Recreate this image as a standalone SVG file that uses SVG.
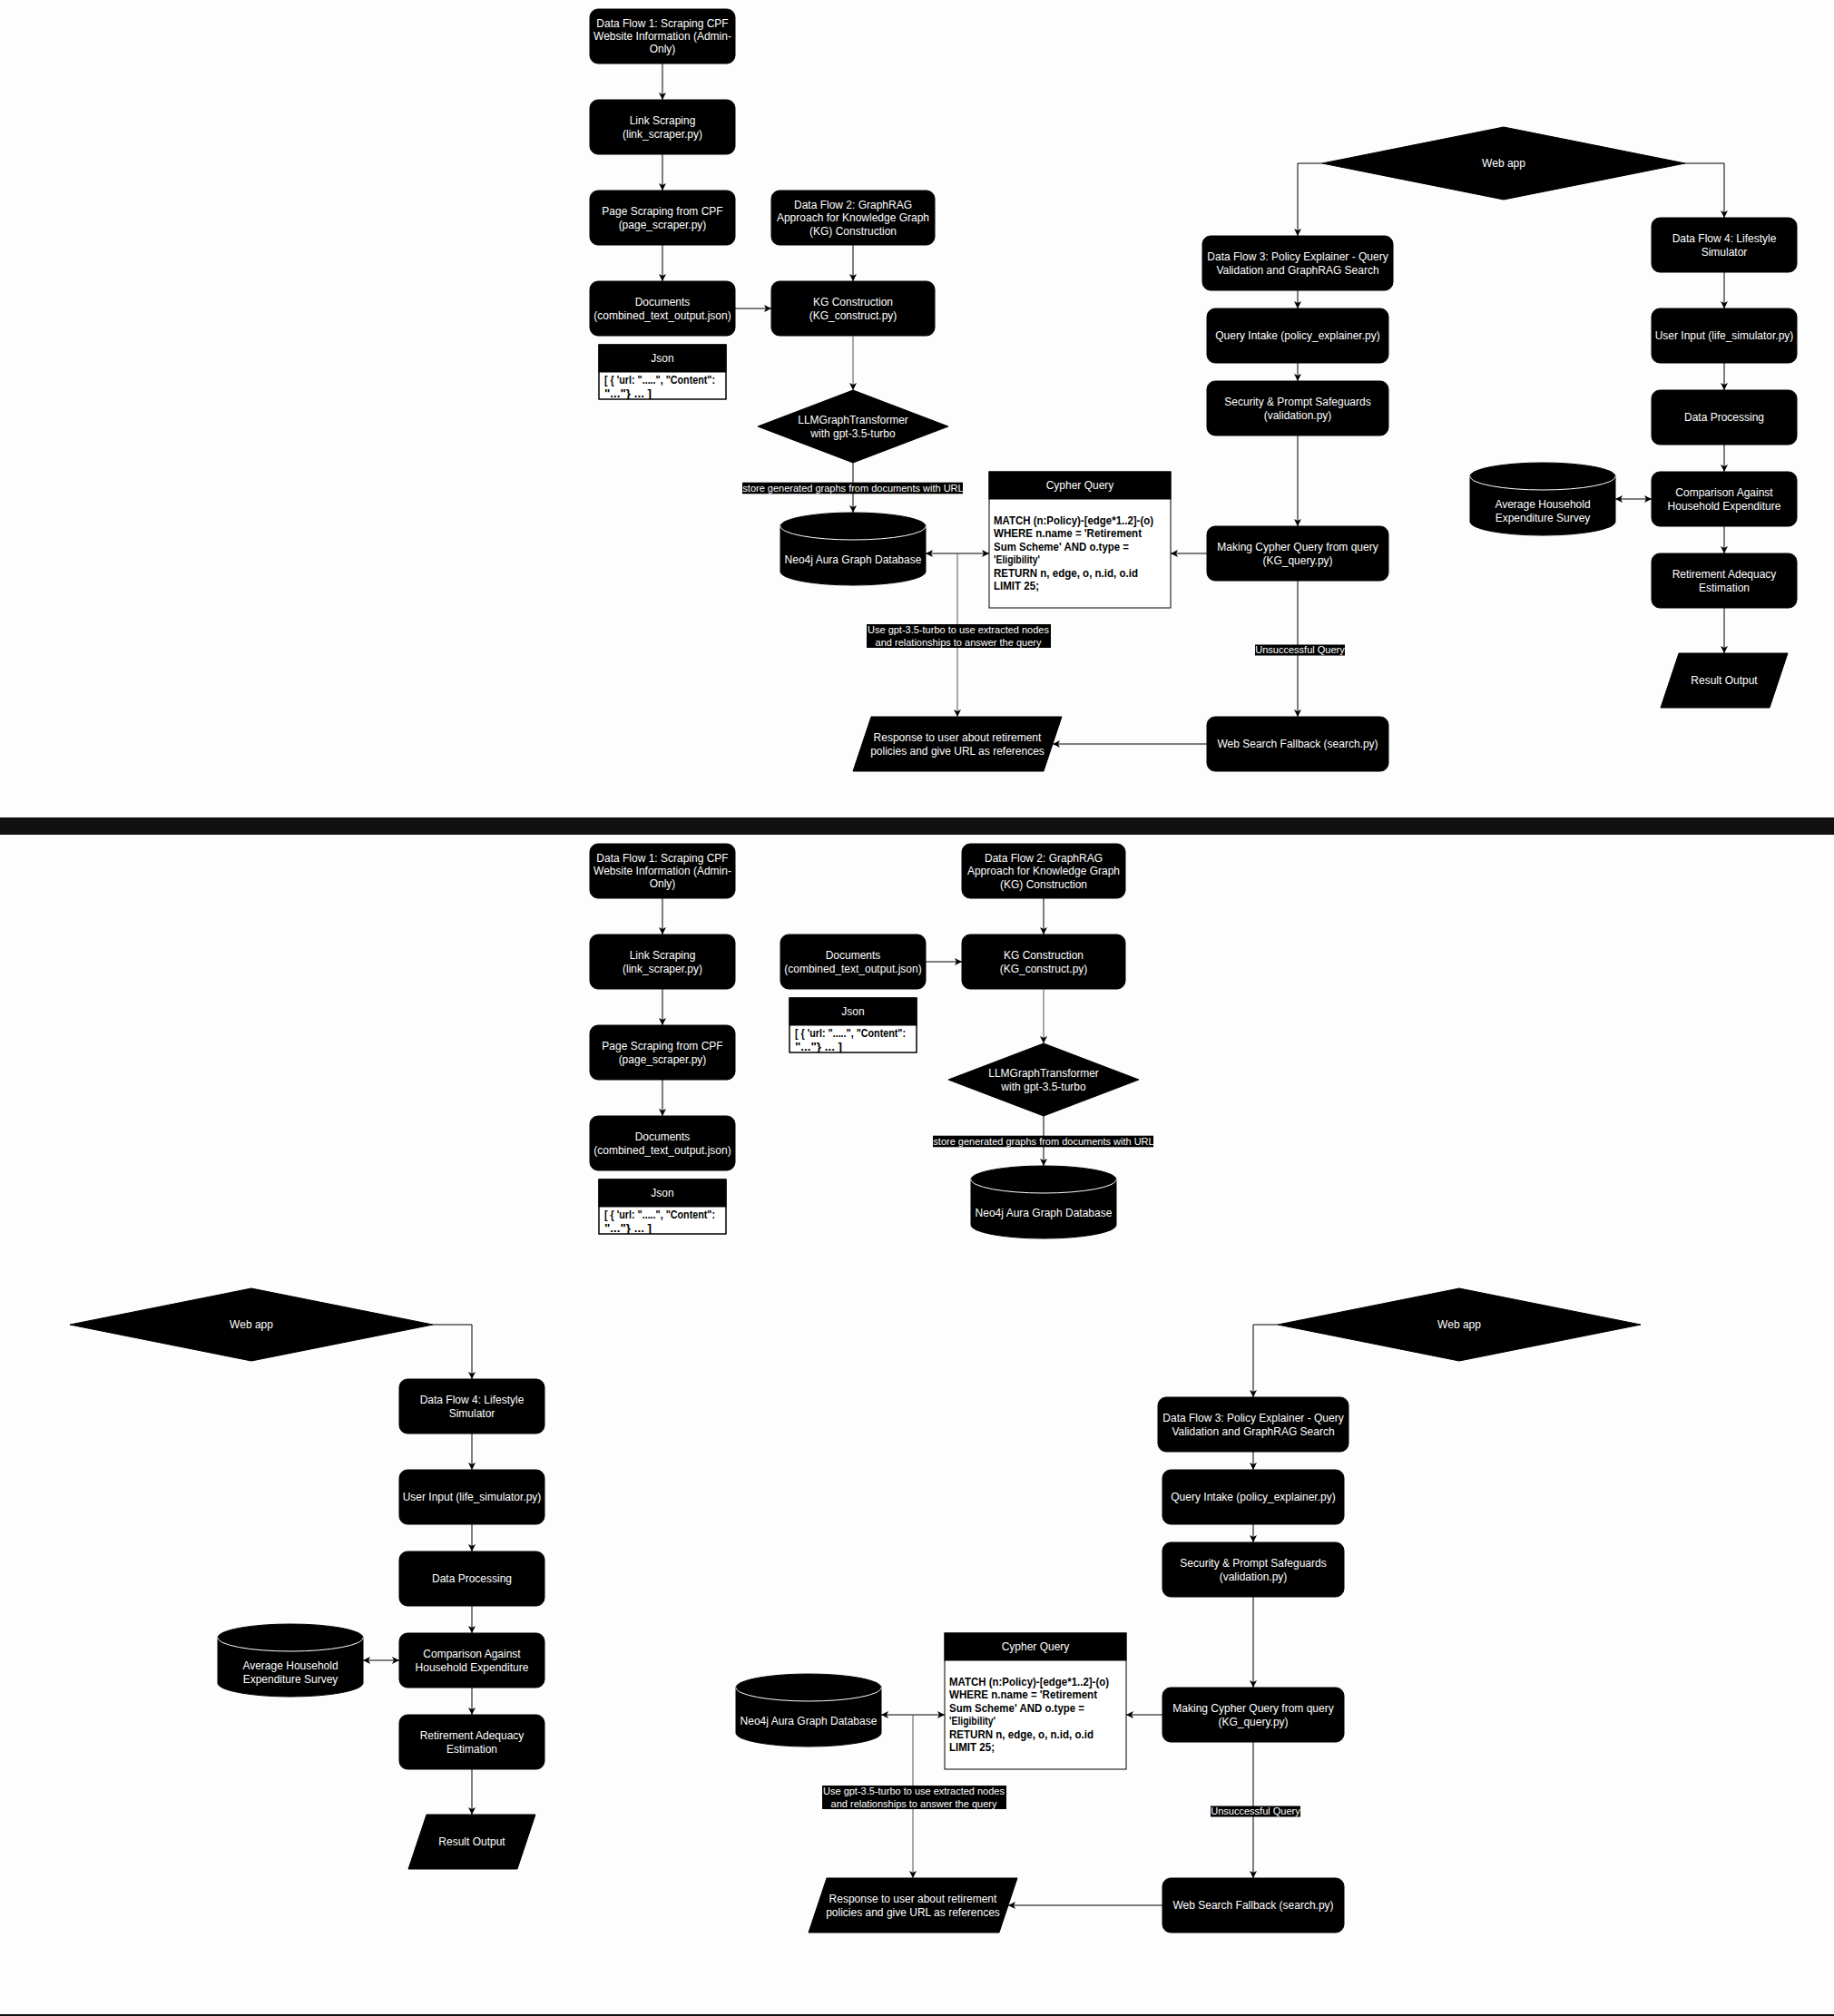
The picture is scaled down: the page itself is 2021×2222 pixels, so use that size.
<svg xmlns="http://www.w3.org/2000/svg" width="2021" height="2222" viewBox="0 0 2021 2222">
<defs>
<style>
.bg{fill:#fdfdfd}
.n{fill:#000;stroke:#000;stroke-width:1}
.t{font-family:"Liberation Sans",Arial,Helvetica,sans-serif;font-size:12px;fill:#fff;text-anchor:middle}
.c{font-family:"Liberation Sans",Arial,Helvetica,sans-serif;font-size:12px;font-weight:bold;fill:#000}
.tb{fill:#fff;stroke:#000;stroke-width:1}
.e{fill:none;stroke:#000;stroke-width:1}
.g{fill:none;stroke:#555;stroke-width:1}
.lb{fill:#000}
.lt{font-family:"Liberation Sans",Arial,Helvetica,sans-serif;font-size:11px;fill:#fff;text-anchor:middle}
.cl{fill:none;stroke:#fff;stroke-width:1}
</style>
<marker id="a" markerUnits="userSpaceOnUse" markerWidth="9" markerHeight="9" refX="8" refY="4" orient="auto-start-reverse" viewBox="0 0 9 8"><path d="M0,0 L8,4 L0,8 L2,4 Z" fill="#000"/></marker>
<clipPath id="cj"><rect x="660" y="410" width="140" height="30"/></clipPath>
</defs>
<rect class="bg" x="0" y="0" width="2021" height="2222"/>
<rect x="0" y="901" width="2021" height="19" fill="#111"/>
<rect x="0" y="2220" width="2021" height="2" fill="#111"/>

<!-- ================= TOP ================= -->
<g id="top-nodes">
 <g id="df1"><rect class="n" x="650" y="10" width="160" height="60" rx="9"/><text class="t" x="730" y="29.7">Data Flow 1: Scraping CPF</text><text class="t" x="730" y="44">Website Information (Admin-</text><text class="t" x="730" y="58.3">Only)</text></g>
 <g id="link"><rect class="n" x="650" y="110" width="160" height="60" rx="9"/><text class="t" x="730" y="136.7">Link Scraping</text><text class="t" x="730" y="151.5">(link_scraper.py)</text></g>
 <g id="page"><rect class="n" x="650" y="210" width="160" height="60" rx="9"/><text class="t" x="730" y="236.7">Page Scraping from CPF</text><text class="t" x="730" y="251.5">(page_scraper.py)</text></g>
 <g id="docs"><rect class="n" x="650" y="310" width="160" height="60" rx="9"/><text class="t" x="730" y="336.7">Documents</text><text class="t" x="730" y="351.5">(combined_text_output.json)</text></g>
 <g id="json"><rect class="tb" x="660" y="380" width="140" height="60"/><rect class="n" x="660" y="380" width="140" height="30"/><text class="t" x="730" y="399">Json</text><g clip-path="url(#cj)"><text class="c" x="666" y="423.3" textLength="122" lengthAdjust="spacingAndGlyphs">[ { 'url: ".....", "Content":</text><text class="c" x="666" y="437.5" textLength="52" lengthAdjust="spacingAndGlyphs">"..."} ... ]</text></g><rect x="660" y="380" width="140" height="60" fill="none" stroke="#000"/></g>
 <g id="df2"><rect class="n" x="850" y="210" width="180" height="60" rx="9"/><text class="t" x="940" y="229.7">Data Flow 2: GraphRAG</text><text class="t" x="940" y="244">Approach for Knowledge Graph</text><text class="t" x="940" y="258.5">(KG) Construction</text></g>
 <g id="kg"><rect class="n" x="850" y="310" width="180" height="60" rx="9"/><text class="t" x="940" y="336.7">KG Construction</text><text class="t" x="940" y="351.5">(KG_construct.py)</text></g>
 <g id="llm"><polygon class="n" points="940,430 1045,470 940,510 835,470"/><text class="t" x="940" y="466.7">LLMGraphTransformer</text><text class="t" x="940" y="481.7">with gpt-3.5-turbo</text></g>
 <g id="neo4j"><path class="n" d="M860,580 A80,15 0 0 1 1020,580 V630 A80,15 0 0 1 860,630 Z"/><path class="cl" d="M860,580 A80,15 0 0 0 1020,580"/><text class="t" x="940" y="621">Neo4j Aura Graph Database</text></g>
 <g id="cypher"><rect class="tb" x="1090" y="520" width="200" height="150"/><rect class="n" x="1090" y="520" width="200" height="30"/><text class="t" x="1190" y="539">Cypher Query</text><text class="c" x="1095" y="578" textLength="176" lengthAdjust="spacingAndGlyphs">MATCH (n:Policy)-[edge*1..2]-(o)</text><text class="c" x="1095" y="592.4" textLength="163" lengthAdjust="spacingAndGlyphs">WHERE n.name = 'Retirement</text><text class="c" x="1095" y="606.8" textLength="149" lengthAdjust="spacingAndGlyphs">Sum Scheme' AND o.type =</text><text class="c" x="1095" y="621.2" textLength="51" lengthAdjust="spacingAndGlyphs">'Eligibility'</text><text class="c" x="1095" y="635.6" textLength="159" lengthAdjust="spacingAndGlyphs">RETURN n, edge, o, n.id, o.id</text><text class="c" x="1095" y="650" textLength="50" lengthAdjust="spacingAndGlyphs">LIMIT 25;</text></g>
 <g id="response"><polygon class="n" points="960,790 1170,790 1150,850 940,850"/><text class="t" x="1055" y="816.7">Response to user about retirement</text><text class="t" x="1055" y="831.7">policies and give URL as references</text></g>
 <g id="webapp"><polygon class="n" points="1657,140 1857,180 1657,220 1457,180"/><text class="t" x="1657" y="184">Web app</text></g>
 <g id="df3"><rect class="n" x="1325" y="260" width="210" height="60" rx="9"/><text class="t" x="1430" y="286.7">Data Flow 3: Policy Explainer - Query</text><text class="t" x="1430" y="301.7">Validation and GraphRAG Search</text></g>
 <g id="intake"><rect class="n" x="1330" y="340" width="200" height="60" rx="9"/><text class="t" x="1430" y="374">Query Intake (policy_explainer.py)</text></g>
 <g id="security"><rect class="n" x="1330" y="420" width="200" height="60" rx="9"/><text class="t" x="1430" y="446.7">Security &amp; Prompt Safeguards</text><text class="t" x="1430" y="461.7">(validation.py)</text></g>
 <g id="making"><rect class="n" x="1330" y="580" width="200" height="60" rx="9"/><text class="t" x="1430" y="606.7">Making Cypher Query from query</text><text class="t" x="1430" y="621.7">(KG_query.py)</text></g>
 <g id="websearch"><rect class="n" x="1330" y="790" width="200" height="60" rx="9"/><text class="t" x="1430" y="824">Web Search Fallback (search.py)</text></g>
 <g id="df4"><rect class="n" x="1820" y="240" width="160" height="60" rx="9"/><text class="t" x="1900" y="266.7">Data Flow 4: Lifestyle</text><text class="t" x="1900" y="281.7">Simulator</text></g>
 <g id="userinput"><rect class="n" x="1820" y="340" width="160" height="60" rx="9"/><text class="t" x="1900" y="374">User Input (life_simulator.py)</text></g>
 <g id="dataproc"><rect class="n" x="1820" y="430" width="160" height="60" rx="9"/><text class="t" x="1900" y="464">Data Processing</text></g>
 <g id="comparison"><rect class="n" x="1820" y="520" width="160" height="60" rx="9"/><text class="t" x="1900" y="546.7">Comparison Against</text><text class="t" x="1900" y="561.7">Household Expenditure</text></g>
 <g id="avghh"><path class="n" d="M1620,525 A80,15 0 0 1 1780,525 V575 A80,15 0 0 1 1620,575 Z"/><path class="cl" d="M1620,525 A80,15 0 0 0 1780,525"/><text class="t" x="1700" y="559.7">Average Household</text><text class="t" x="1700" y="574.7">Expenditure Survey</text></g>
 <g id="adequacy"><rect class="n" x="1820" y="610" width="160" height="60" rx="9"/><text class="t" x="1900" y="636.7">Retirement Adequacy</text><text class="t" x="1900" y="651.7">Estimation</text></g>
 <g id="result"><polygon class="n" points="1850,720 1970,720 1950,780 1830,780"/><text class="t" x="1900" y="754">Result Output</text></g>
</g>

<!-- ================= BOTTOM ================= -->
<g id="bottom-pipeline" transform="translate(0,920)">
 <g id="df1-b"><rect class="n" x="650" y="10" width="160" height="60" rx="9"/><text class="t" x="730" y="29.7">Data Flow 1: Scraping CPF</text><text class="t" x="730" y="44">Website Information (Admin-</text><text class="t" x="730" y="58.3">Only)</text></g>
 <g id="link-b"><rect class="n" x="650" y="110" width="160" height="60" rx="9"/><text class="t" x="730" y="136.7">Link Scraping</text><text class="t" x="730" y="151.5">(link_scraper.py)</text></g>
 <g id="page-b"><rect class="n" x="650" y="210" width="160" height="60" rx="9"/><text class="t" x="730" y="236.7">Page Scraping from CPF</text><text class="t" x="730" y="251.5">(page_scraper.py)</text></g>
 <g id="docs-b"><rect class="n" x="650" y="310" width="160" height="60" rx="9"/><text class="t" x="730" y="336.7">Documents</text><text class="t" x="730" y="351.5">(combined_text_output.json)</text></g>
 <g id="json-b"><rect class="tb" x="660" y="380" width="140" height="60"/><rect class="n" x="660" y="380" width="140" height="30"/><text class="t" x="730" y="399">Json</text><g clip-path="url(#cj)"><text class="c" x="666" y="423.3" textLength="122" lengthAdjust="spacingAndGlyphs">[ { 'url: ".....", "Content":</text><text class="c" x="666" y="437.5" textLength="52" lengthAdjust="spacingAndGlyphs">"..."} ... ]</text></g><rect x="660" y="380" width="140" height="60" fill="none" stroke="#000"/></g>
</g>
<g id="bottom-graph" transform="translate(210,720)">
 <g id="docs2-b"><rect class="n" x="650" y="310" width="160" height="60" rx="9"/><text class="t" x="730" y="336.7">Documents</text><text class="t" x="730" y="351.5">(combined_text_output.json)</text></g>
 <g id="json2-b"><rect class="tb" x="660" y="380" width="140" height="60"/><rect class="n" x="660" y="380" width="140" height="30"/><text class="t" x="730" y="399">Json</text><g clip-path="url(#cj)"><text class="c" x="666" y="423.3" textLength="122" lengthAdjust="spacingAndGlyphs">[ { 'url: ".....", "Content":</text><text class="c" x="666" y="437.5" textLength="52" lengthAdjust="spacingAndGlyphs">"..."} ... ]</text></g><rect x="660" y="380" width="140" height="60" fill="none" stroke="#000"/></g>
 <g id="df2-b"><rect class="n" x="850" y="210" width="180" height="60" rx="9"/><text class="t" x="940" y="229.7">Data Flow 2: GraphRAG</text><text class="t" x="940" y="244">Approach for Knowledge Graph</text><text class="t" x="940" y="258.5">(KG) Construction</text></g>
 <g id="kg-b"><rect class="n" x="850" y="310" width="180" height="60" rx="9"/><text class="t" x="940" y="336.7">KG Construction</text><text class="t" x="940" y="351.5">(KG_construct.py)</text></g>
 <g id="llm-b"><polygon class="n" points="940,430 1045,470 940,510 835,470"/><text class="t" x="940" y="466.7">LLMGraphTransformer</text><text class="t" x="940" y="481.7">with gpt-3.5-turbo</text></g>
 <g id="neo4j-b1"><path class="n" d="M860,580 A80,15 0 0 1 1020,580 V630 A80,15 0 0 1 860,630 Z"/><path class="cl" d="M860,580 A80,15 0 0 0 1020,580"/><text class="t" x="940" y="621">Neo4j Aura Graph Database</text></g>
</g>
<g id="bottom-policy" transform="translate(-49,1280)">
 <g id="neo4j-b2"><path class="n" d="M860,580 A80,15 0 0 1 1020,580 V630 A80,15 0 0 1 860,630 Z"/><path class="cl" d="M860,580 A80,15 0 0 0 1020,580"/><text class="t" x="940" y="621">Neo4j Aura Graph Database</text></g>
 <g id="cypher-b"><rect class="tb" x="1090" y="520" width="200" height="150"/><rect class="n" x="1090" y="520" width="200" height="30"/><text class="t" x="1190" y="539">Cypher Query</text><text class="c" x="1095" y="578" textLength="176" lengthAdjust="spacingAndGlyphs">MATCH (n:Policy)-[edge*1..2]-(o)</text><text class="c" x="1095" y="592.4" textLength="163" lengthAdjust="spacingAndGlyphs">WHERE n.name = 'Retirement</text><text class="c" x="1095" y="606.8" textLength="149" lengthAdjust="spacingAndGlyphs">Sum Scheme' AND o.type =</text><text class="c" x="1095" y="621.2" textLength="51" lengthAdjust="spacingAndGlyphs">'Eligibility'</text><text class="c" x="1095" y="635.6" textLength="159" lengthAdjust="spacingAndGlyphs">RETURN n, edge, o, n.id, o.id</text><text class="c" x="1095" y="650" textLength="50" lengthAdjust="spacingAndGlyphs">LIMIT 25;</text></g>
 <g id="response-b"><polygon class="n" points="960,790 1170,790 1150,850 940,850"/><text class="t" x="1055" y="816.7">Response to user about retirement</text><text class="t" x="1055" y="831.7">policies and give URL as references</text></g>
 <g id="webapp-b1"><polygon class="n" points="1657,140 1857,180 1657,220 1457,180"/><text class="t" x="1657" y="184">Web app</text></g>
 <g id="df3-b"><rect class="n" x="1325" y="260" width="210" height="60" rx="9"/><text class="t" x="1430" y="286.7">Data Flow 3: Policy Explainer - Query</text><text class="t" x="1430" y="301.7">Validation and GraphRAG Search</text></g>
 <g id="intake-b"><rect class="n" x="1330" y="340" width="200" height="60" rx="9"/><text class="t" x="1430" y="374">Query Intake (policy_explainer.py)</text></g>
 <g id="security-b"><rect class="n" x="1330" y="420" width="200" height="60" rx="9"/><text class="t" x="1430" y="446.7">Security &amp; Prompt Safeguards</text><text class="t" x="1430" y="461.7">(validation.py)</text></g>
 <g id="making-b"><rect class="n" x="1330" y="580" width="200" height="60" rx="9"/><text class="t" x="1430" y="606.7">Making Cypher Query from query</text><text class="t" x="1430" y="621.7">(KG_query.py)</text></g>
 <g id="websearch-b"><rect class="n" x="1330" y="790" width="200" height="60" rx="9"/><text class="t" x="1430" y="824">Web Search Fallback (search.py)</text></g>
</g>
<g id="bottom-lifestyle" transform="translate(-1380,1280)">
 <g id="webapp-b2"><polygon class="n" points="1657,140 1857,180 1657,220 1457,180"/><text class="t" x="1657" y="184">Web app</text></g>
 <g id="df4-b"><rect class="n" x="1820" y="240" width="160" height="60" rx="9"/><text class="t" x="1900" y="266.7">Data Flow 4: Lifestyle</text><text class="t" x="1900" y="281.7">Simulator</text></g>
 <g id="userinput-b"><rect class="n" x="1820" y="340" width="160" height="60" rx="9"/><text class="t" x="1900" y="374">User Input (life_simulator.py)</text></g>
 <g id="dataproc-b"><rect class="n" x="1820" y="430" width="160" height="60" rx="9"/><text class="t" x="1900" y="464">Data Processing</text></g>
 <g id="comparison-b"><rect class="n" x="1820" y="520" width="160" height="60" rx="9"/><text class="t" x="1900" y="546.7">Comparison Against</text><text class="t" x="1900" y="561.7">Household Expenditure</text></g>
 <g id="avghh-b"><path class="n" d="M1620,525 A80,15 0 0 1 1780,525 V575 A80,15 0 0 1 1620,575 Z"/><path class="cl" d="M1620,525 A80,15 0 0 0 1780,525"/><text class="t" x="1700" y="559.7">Average Household</text><text class="t" x="1700" y="574.7">Expenditure Survey</text></g>
 <g id="adequacy-b"><rect class="n" x="1820" y="610" width="160" height="60" rx="9"/><text class="t" x="1900" y="636.7">Retirement Adequacy</text><text class="t" x="1900" y="651.7">Estimation</text></g>
 <g id="result-b"><polygon class="n" points="1850,720 1970,720 1950,780 1830,780"/><text class="t" x="1900" y="754">Result Output</text></g>
</g>

<!-- ================= CONNECTORS ================= -->
<g id="connectors">
 <g id="conn-top">
  <path class="e" d="M730,70V110" marker-end="url(#a)"/>
  <path class="e" d="M730,170V210" marker-end="url(#a)"/>
  <path class="e" d="M730,270V310" marker-end="url(#a)"/>
  <path class="e" d="M810,340H850" marker-end="url(#a)"/>
  <path class="e" d="M940,270V310" marker-end="url(#a)"/>
  <path class="g" d="M940,370V430" marker-end="url(#a)"/>
  <path class="e" d="M940,510V565" marker-end="url(#a)"/>
  <path class="e" d="M1020,610H1090" marker-start="url(#a)" marker-end="url(#a)"/>
  <path class="e" d="M1330,610H1290" marker-end="url(#a)"/>
  <path class="g" d="M1055,610V790" marker-end="url(#a)"/>
  <path class="e" d="M1430,640V790" marker-end="url(#a)"/>
  <path class="e" d="M1330,820H1160" marker-end="url(#a)"/>
  <path class="e" d="M1457,180H1430V260" marker-end="url(#a)"/>
  <path class="e" d="M1857,180H1900V240" marker-end="url(#a)"/>
  <path class="e" d="M1430,320V340" marker-end="url(#a)"/>
  <path class="e" d="M1430,400V420" marker-end="url(#a)"/>
  <path class="e" d="M1430,480V580" marker-end="url(#a)"/>
  <path class="e" d="M1900,300V340" marker-end="url(#a)"/>
  <path class="e" d="M1900,400V430" marker-end="url(#a)"/>
  <path class="e" d="M1900,490V520" marker-end="url(#a)"/>
  <path class="e" d="M1900,580V610" marker-end="url(#a)"/>
  <path class="e" d="M1900,670V720" marker-end="url(#a)"/>
  <path class="e" d="M1780,550H1820" marker-start="url(#a)" marker-end="url(#a)"/>
  <rect class="lb" x="818" y="531.7" width="243" height="12.6"/><text class="lt" x="940" y="542">store generated graphs from documents with URL</text>
  <rect class="lb" x="955" y="688" width="203" height="26"/><text class="lt" x="1056" y="698">Use gpt-3.5-turbo to use extracted nodes</text><text class="lt" x="1056" y="712">and relationships to answer the query</text>
  <rect class="lb" x="1383" y="710.5" width="99" height="12"/><text class="lt" x="1432.5" y="720.3">Unsuccessful Query</text>
 </g>
 <g id="conn-bottom-pipeline" transform="translate(0,920)">
  <path class="e" d="M730,70V110" marker-end="url(#a)"/>
  <path class="e" d="M730,170V210" marker-end="url(#a)"/>
  <path class="e" d="M730,270V310" marker-end="url(#a)"/>
 </g>
 <g id="conn-bottom-graph" transform="translate(210,720)">
  <path class="e" d="M810,340H850" marker-end="url(#a)"/>
  <path class="e" d="M940,270V310" marker-end="url(#a)"/>
  <path class="g" d="M940,370V430" marker-end="url(#a)"/>
  <path class="e" d="M940,510V565" marker-end="url(#a)"/>
  <rect class="lb" x="818" y="531.7" width="243" height="12.6"/><text class="lt" x="940" y="542">store generated graphs from documents with URL</text>
 </g>
 <g id="conn-bottom-policy" transform="translate(-49,1280)">
  <path class="e" d="M1020,610H1090" marker-start="url(#a)" marker-end="url(#a)"/>
  <path class="e" d="M1330,610H1290" marker-end="url(#a)"/>
  <path class="g" d="M1055,610V790" marker-end="url(#a)"/>
  <path class="e" d="M1430,640V790" marker-end="url(#a)"/>
  <path class="e" d="M1330,820H1160" marker-end="url(#a)"/>
  <path class="e" d="M1457,180H1430V260" marker-end="url(#a)"/>
  <path class="e" d="M1430,320V340" marker-end="url(#a)"/>
  <path class="e" d="M1430,400V420" marker-end="url(#a)"/>
  <path class="e" d="M1430,480V580" marker-end="url(#a)"/>
  <rect class="lb" x="955" y="688" width="203" height="26"/><text class="lt" x="1056" y="698">Use gpt-3.5-turbo to use extracted nodes</text><text class="lt" x="1056" y="712">and relationships to answer the query</text>
  <rect class="lb" x="1383" y="710.5" width="99" height="12"/><text class="lt" x="1432.5" y="720.3">Unsuccessful Query</text>
 </g>
 <g id="conn-bottom-lifestyle" transform="translate(-1380,1280)">
  <path class="e" d="M1857,180H1900V240" marker-end="url(#a)"/>
  <path class="e" d="M1900,300V340" marker-end="url(#a)"/>
  <path class="e" d="M1900,400V430" marker-end="url(#a)"/>
  <path class="e" d="M1900,490V520" marker-end="url(#a)"/>
  <path class="e" d="M1900,580V610" marker-end="url(#a)"/>
  <path class="e" d="M1900,670V720" marker-end="url(#a)"/>
  <path class="e" d="M1780,550H1820" marker-start="url(#a)" marker-end="url(#a)"/>
 </g>
</g>
</svg>
